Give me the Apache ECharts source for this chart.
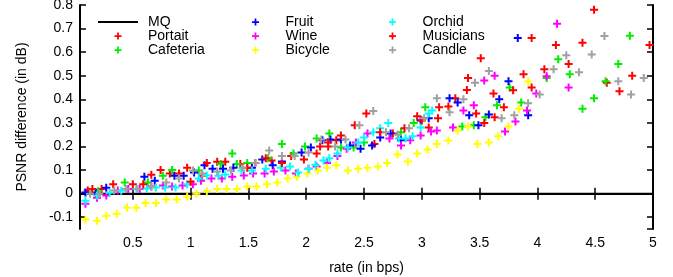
<!DOCTYPE html>
<html>
<head>
<meta charset="utf-8">
<script src="https://cdn.jsdelivr.net/npm/echarts@6/dist/echarts.min.js"></script>
<style>
  html, body { margin: 0; padding: 0; background: #fff; }
  #main { width: 673px; height: 277px; }
</style>
</head>
<body>
<div id="main"></div>
<script>
// [rate (bps), PSNR difference (dB)]
var mq = [[0.043, 0], [5, 0]];

var portait = [
  [0.11,0.013],[0.23,0.02],[0.5,0.04],[0.66,0.08],[0.82,0.085],[0.97,0.11],[1.1,0.076],
  [1.23,0.135],[1.43,0.126],[1.56,0.13],[1.7,0.14],[1.87,0.16],[2.09,0.17],[2.19,0.2],
  [2.26,0.226],[2.42,0.29],[2.59,0.21],[2.75,0.255],[2.96,0.328],[3.06,0.28],[3.15,0.366],
  [3.29,0.404],[3.4,0.49],[3.51,0.574],[3.62,0.425],[3.71,0.366],[3.88,0.506],[3.95,0.66],
  [4.16,0.63],[4.39,0.64],[4.6,0.47],[4.82,0.5]
];
var cafeteria = [
  [0.2,0.01],[0.43,0.047],[0.63,0.047],[0.76,0.076],[0.84,0.1],[1.07,0.098],[1.26,0.126],
  [1.36,0.17],[1.4,0.126],[1.49,0.13],[1.67,0.15],[1.79,0.21],[1.89,0.17],[1.99,0.2],
  [2.09,0.234],[2.2,0.255],[2.3,0.196],[2.41,0.196],[2.5,0.217],[2.82,0.26],[2.93,0.3],
  [3.03,0.366],[3.35,0.285],[3.45,0.29],[3.55,0.324],[3.65,0.375],[3.76,0.45],[3.86,0.387],
  [4.08,0.49],[4.18,0.57],[4.28,0.506],[4.39,0.36],[4.49,0.404],[4.59,0.477],[4.7,0.55],[4.8,0.67]
];
var fruit = [
  [0.09,0.005],[0.18,0.004],[0.27,0.025],[0.6,0.072],[0.69,0.055],[0.86,0.076],[0.94,0.076],
  [1.03,0.09],[1.12,0.12],[1.19,0.106],[1.28,0.106],[1.37,0.11],[1.53,0.11],[1.62,0.145],
  [1.71,0.12],[1.79,0.136],[1.96,0.174],[2.04,0.196],[2.14,0.226],[2.21,0.23],[2.3,0.23],
  [2.38,0.204],[2.47,0.19],[2.57,0.204],[2.64,0.238],[2.73,0.255],[2.82,0.226],[2.99,0.31],
  [3.06,0.32],[3.24,0.404],[3.31,0.387],[3.41,0.332],[3.49,0.29],[3.58,0.336],[3.67,0.4],
  [3.75,0.477],[3.83,0.66],[3.92,0.332]
];
var wine = [
  [0.09,-0.043],[0.19,-0.017],[0.27,-0.008],[0.37,0.013],[0.46,0.02],[0.56,0.02],[0.66,0.03],
  [0.76,0.034],[0.84,0.03],[0.93,0.034],[1.02,0.04],[1.09,0.055],[1.18,0.064],[1.27,0.064],
  [1.36,0.072],[1.46,0.077],[1.54,0.085],[1.64,0.085],[1.72,0.094],[1.82,0.098],[1.91,0.085],
  [2.02,0.106],[2.09,0.115],[2.18,0.13],[2.27,0.16],[2.35,0.19],[2.43,0.217],[2.53,0.255],
  [2.72,0.234],[2.82,0.204],[2.9,0.226],[2.99,0.247],[3.08,0.264],[3.13,0.268],[3.27,0.28],
  [3.36,0.353],[3.45,0.375],[3.54,0.48],[3.63,0.5],[3.72,0.264],[3.81,0.306],[3.91,0.353],
  [3.99,0.425],[4.08,0.498],[4.17,0.72],[4.27,0.45]
];
var bicycle = [
  [0.09,-0.11],[0.19,-0.115],[0.27,-0.094],[0.36,-0.085],[0.45,-0.06],[0.53,-0.06],[0.61,-0.04],
  [0.7,-0.04],[0.79,-0.025],[0.88,-0.025],[0.97,-0.013],[1.05,0],[1.14,0.01],[1.23,0.02],
  [1.31,0.02],[1.4,0.02],[1.49,0.03],[1.57,0.03],[1.66,0.04],[1.75,0.047],[1.84,0.064],
  [1.92,0.072],[2.01,0.085],[2.1,0.098],[2.18,0.11],[2.26,0.12],[2.36,0.098],[2.45,0.106],
  [2.53,0.11],[2.62,0.115],[2.7,0.13],[2.79,0.166],[2.88,0.136],[2.96,0.17],[3.05,0.187],
  [3.13,0.21],[3.23,0.225],[3.31,0.268],[3.4,0.285],[3.48,0.21],[3.58,0.217],[3.66,0.243],
  [3.75,0.285],[3.84,0.36],[3.92,0.476]
];
var orchid = [
  [0.09,-0.03],[0.19,-0.008],[0.3,0.004],[0.4,0.012],[0.53,0.02],[0.62,0.022],[0.7,0.026],
  [0.78,0.026],[0.87,0.026],[0.97,0.04],[1.07,0.064],[1.14,0.077],[1.24,0.076],[1.3,0.081],
  [1.44,0.098],[1.53,0.098],[1.65,0.106],[1.78,0.11],[1.86,0.115],[1.93,0.09],[2.02,0.106],
  [2.08,0.123],[2.15,0.14],[2.2,0.15],[2.27,0.17],[2.36,0.196],[2.45,0.217],[2.5,0.238],
  [2.58,0.26],[2.64,0.277],[2.71,0.3],[2.8,0.234],[2.86,0.234],[2.92,0.243],[2.99,0.28],
  [3.06,0.34],[3.09,0.353]
];
var musicians = [
  [0.15,0.02],[0.33,0.04],[0.59,0.04],[0.74,0.1],[0.9,0.085],[1.0,0.05],[1.14,0.13],
  [1.3,0.135],[1.49,0.11],[1.65,0.15],[1.79,0.13],[1.98,0.145],[2.12,0.2],[2.19,0.217],
  [2.3,0.247],[2.52,0.34],[2.64,0.26],[2.85,0.277],[3.0,0.31],[3.14,0.32],[3.23,0.37],
  [3.39,0.44],[3.47,0.34],[3.54,0.3],[3.63,0.324],[3.79,0.438],[3.95,0.45],[4.06,0.528],
  [4.27,0.55],[4.49,0.78],[4.71,0.434],[4.97,0.63]
];
var candle = [
  [0.13,0],[0.21,0],[0.34,0.013],[0.44,0.02],[0.54,0.02],[0.66,0.03],[0.79,0.047],[0.9,0.064],
  [1.02,0.098],[1.1,0.085],[1.23,0.094],[1.35,0.098],[1.45,0.11],[1.56,0.13],[1.68,0.183],
  [1.79,0.16],[1.9,0.16],[2.02,0.174],[2.13,0.23],[2.25,0.2],[2.34,0.23],[2.46,0.29],
  [2.58,0.35],[2.69,0.26],[2.79,0.25],[2.89,0.277],[3.02,0.32],[3.13,0.404],[3.24,0.345],
  [3.36,0.4],[3.46,0.47],[3.58,0.52],[3.69,0.32],[3.8,0.332],[3.92,0.383],[4.02,0.42],
  [4.14,0.528],[4.25,0.587],[4.36,0.515],[4.47,0.59],[4.58,0.668],[4.7,0.477],[4.81,0.42],[4.92,0.49]
];

var names = ['Portait', 'Cafeteria', 'Fruit', 'Wine', 'Bicycle', 'Orchid', 'Musicians', 'Candle'];
var sets = [portait, cafeteria, fruit, wine, bicycle, orchid, musicians, candle];
var colors = ['#ff0000', '#00ee00', '#0000ff', '#ff00ff', '#ffff00', '#00ffff', '#ff0000', '#a0a0a0'];

var plus = 'path://M3,0H5V3H8V5H5V8H3V5H0V3H3Z';
var lineIcon = 'path://M0,0H40V2H0Z';
var font = 'Liberation Sans, Arial, sans-serif';

var chart = echarts.init(document.getElementById('main'), null, { renderer: 'canvas' });

var series = [{
  name: 'MQ',
  type: 'line',
  data: mq,
  symbol: 'none',
  showSymbol: false,
  lineStyle: { color: '#000', width: 2 },
  itemStyle: { color: '#000' },
  silent: true,
  z: 1
}];
for (var i = 0; i < names.length; i++) {
  series.push({
    name: names[i],
    type: 'scatter',
    data: sets[i],
    symbol: plus,
    symbolSize: 8,
    itemStyle: { color: colors[i], opacity: 1 },
    z: 2 + i
  });
}

function legendCol(left, items) {
  return {
    orient: 'vertical',
    left: left,
    top: 10,
    itemWidth: 40,
    itemHeight: 7,
    itemGap: 0,
    selectedMode: false,
    data: items.map(function (n) {
      return n === 'MQ' ? { name: n, icon: lineIcon } : { name: n, icon: plus };
    }),
    textStyle: { fontFamily: font, fontSize: 14, color: '#000', lineHeight: 14, padding: [0, 0, 0, 5] }
  };
}

var axisLine = { show: true, lineStyle: { color: '#000', width: 2 } };
var tick = { show: true, inside: true, length: 6, lineStyle: { color: '#000', width: 1.5 } };
var labelStyle = { fontFamily: font, fontSize: 14, color: '#000' };

var option = {
  animation: false,
  backgroundColor: '#fff',
  grid: { left: 80, right: 20, top: 5, bottom: 48, outerBoundsMode: 'none', containLabel: false },
  legend: [
    legendCol(93, ['MQ', 'Portait', 'Cafeteria']),
    legendCol(247, ['Fruit', 'Wine', 'Bicycle']),
    legendCol(384, ['Orchid', 'Musicians', 'Candle'])
  ],
  xAxis: [{
    type: 'value',
    min: 0.043,
    max: 5,
    splitNumber: 10,
    axisLine: axisLine,
    axisTick: tick,
    splitLine: { show: false },
    axisLabel: Object.assign({ margin: 7, showMinLabel: false }, labelStyle),
    name: 'rate (in bps)',
    nameLocation: 'middle',
    nameGap: 32,
    nameTextStyle: labelStyle
  }, {
    type: 'value',
    position: 'top',
    min: 0.043,
    max: 5,
    splitNumber: 10,
    axisLine: axisLine,
    axisTick: tick,
    splitLine: { show: false },
    axisLabel: { show: false }
  }],
  yAxis: [{
    type: 'value',
    min: -0.15,
    max: 0.8,
    splitNumber: 10,
    axisLine: axisLine,
    axisTick: tick,
    splitLine: { show: false },
    axisLabel: Object.assign({ margin: 7, showMinLabel: false }, labelStyle),
    name: 'PSNR difference (in dB)',
    nameLocation: 'middle',
    nameGap: 51,
    nameTextStyle: labelStyle
  }, {
    type: 'value',
    position: 'right',
    min: -0.15,
    max: 0.8,
    splitNumber: 10,
    axisLine: axisLine,
    axisTick: tick,
    splitLine: { show: false },
    axisLabel: { show: false }
  }],
  series: series
};

chart.setOption(option);
</script>
</body>
</html>
